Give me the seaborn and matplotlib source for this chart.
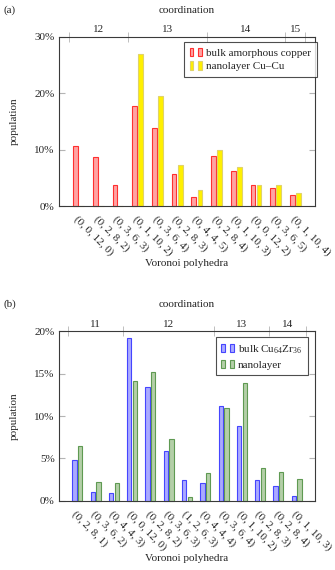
import numpy as np
import pandas as pd
import matplotlib
matplotlib.use("Agg")
import matplotlib.pyplot as plt
import matplotlib.patches as mpatches
from matplotlib.legend_handler import HandlerTuple
from matplotlib.ticker import FixedLocator, PercentFormatter
import seaborn as sns

# panel (a) data
cats_a = ['(0, 0, 12, 0)', '(0, 2, 8, 2)', '(0, 3, 6, 3)', '(0, 1, 10, 2)',
          '(0, 3, 6, 4)', '(0, 2, 8, 3)', '(0, 4, 4, 5)', '(0, 2, 8, 4)',
          '(0, 1, 10, 3)', '(0, 0, 12, 2)', '(0, 3, 6, 5)', '(0, 1, 10, 4)']
bulk_cu = [10.6, 8.7, 3.65, 17.7, 13.9, 5.7, 1.6, 8.85, 6.2, 3.65, 3.2, 1.95]
nano_cu = [0.0, 0.0, 0.0, 27.0, 19.5, 7.3, 2.8, 9.9, 6.95, 3.75, 3.75, 2.25]
coord_a = ['12', '13', '14', '15']
coord_a_bounds = [-0.5, 2.5, 6.5, 10.5, 11.5]
names_a = ['bulk amorphous copper', 'nanolayer Cu\u2013Cu']

# panel (b) data
cats_b = ['(0, 2, 8, 1)', '(0, 3, 6, 2)', '(0, 4, 4, 3)', '(0, 0, 12, 0)',
          '(0, 2, 8, 2)', '(0, 3, 6, 3)', '(1, 2, 6, 3)', '(0, 4, 4, 4)',
          '(0, 3, 6, 4)', '(0, 1, 10, 2)', '(0, 2, 8, 3)', '(0, 2, 8, 4)',
          '(0, 1, 10, 3)']
bulk_cuzr = [4.8, 1.03, 0.87, 19.2, 13.4, 5.85, 2.4, 2.13, 11.15, 8.85, 2.4, 1.75, 0.5]
nano_cuzr = [6.45, 2.2, 2.1, 14.15, 15.25, 7.25, 0.45, 3.3, 10.95, 13.85, 3.85, 3.35, 2.55]
coord_b = ['11', '12', '13', '14']
coord_b_bounds = [-0.5, 2.5, 7.5, 10.5, 12.5]
names_b = [r'bulk Cu$_{64}$Zr$_{36}$', 'nanolayer']

sns.set_style('white')
plt.rcParams['font.family'] = ['Liberation Serif', 'DejaVu Serif']
plt.rcParams['mathtext.fontset'] = 'custom'
plt.rcParams['mathtext.rm'] = 'Liberation Serif'
plt.rcParams['font.size'] = 8

tickgray = '#b4b4b4'


def panel(ax, cats, s1, s2, names, fills, edges, coord, bounds, ymax, ystep, legpos):
    df = pd.DataFrame({'cat': cats * 2,
                       'val': s1 + s2,
                       'series': [names[0]] * len(cats) + [names[1]] * len(cats)})
    sns.barplot(data=df, x='cat', y='val', hue='series', palette=fills,
                width=0.62, gap=0.23, ax=ax, legend=False, saturation=1)
    for cont, ec in zip(ax.containers, edges):
        for p in cont:
            p.set_edgecolor(ec)
            p.set_linewidth(0.8)
            p.set_clip_on(False)
    n = len(cats)
    ax.set_xlim(-1, n)
    ax.set_ylim(0, ymax)
    ax.yaxis.set_major_locator(FixedLocator(np.arange(0, ymax + 0.1, ystep)))
    ax.yaxis.set_major_formatter(PercentFormatter(decimals=0))
    ax.set_xticks(range(n))
    ax.set_xticklabels(cats, rotation=-45, ha='left', va='top', rotation_mode='anchor')
    ax.tick_params(axis='x', direction='out', length=3, color=tickgray, pad=3,
                   labelsize=8)
    ax.tick_params(axis='y', direction='in', length=4, color=tickgray,
                   left=True, right=True, labelsize=8, pad=3)
    ax.set_xlabel('Voronoi polyhedra', fontsize=8, labelpad=1)
    ax.set_ylabel('population', fontsize=8, labelpad=11)
    for sp in ax.spines.values():
        sp.set_color('#3a3a3a')
        sp.set_linewidth(0.8)

    # coordination axis on top
    top = ax.secondary_xaxis('top')
    centers = [(bounds[i] + bounds[i + 1]) / 2 for i in range(len(coord))]
    top.set_xticks(centers)
    top.set_xticklabels(coord)
    top.set_xticks(bounds, minor=True)
    top.tick_params(which='major', length=0, pad=2, labelsize=8)
    top.tick_params(which='minor', direction='inout', length=7, color=tickgray)
    top.set_xlabel('coordination', fontsize=8, labelpad=9)
    top.spines['top'].set_visible(False)

    handles = []
    for f, e in zip(fills, edges):
        p = mpatches.Patch(facecolor=f, edgecolor=e, linewidth=0.8)
        handles.append((p, p))
    leg = ax.legend(handles, names, handler_map={tuple: HandlerTuple(ndivide=None, pad=0.45)},
                    loc='upper right', bbox_to_anchor=legpos, fancybox=False,
                    handlelength=1.15, handleheight=0.75, handletextpad=0.35,
                    borderpad=0.5, labelspacing=0.35, borderaxespad=0, fontsize=8)
    leg.get_frame().set_edgecolor('#222222')
    leg.get_frame().set_linewidth(0.8)


fig = plt.figure(figsize=(3.35, 5.7), dpi=100)
ax_a = fig.add_axes([59 / 335, 1 - 206 / 570, 256 / 335, 169 / 570])
ax_b = fig.add_axes([59 / 335, 1 - 500.7 / 570, 256 / 335, 169.3 / 570])

panel(ax_a, cats_a, bulk_cu, nano_cu, names_a,
      ['#ffa3a3', '#fff000'], ['#ff3030', '#e0d36a'],
      coord_a, coord_a_bounds, 30, 10, (1.007, 0.97))
panel(ax_b, cats_b, bulk_cuzr, nano_cuzr, names_b,
      ['#aaaaff', '#b4cfa8'], ['#4545ff', '#5f9a52'],
      coord_b, coord_b_bounds, 20, 5, (0.971, 0.965))

fig.text(3 / 335, 1 - 10 / 570, '(a)', fontsize=8, va='center', ha='left')
fig.text(3 / 335, 1 - 304 / 570, '(b)', fontsize=8, va='center', ha='left')

fig.savefig('out.png', dpi=100)
